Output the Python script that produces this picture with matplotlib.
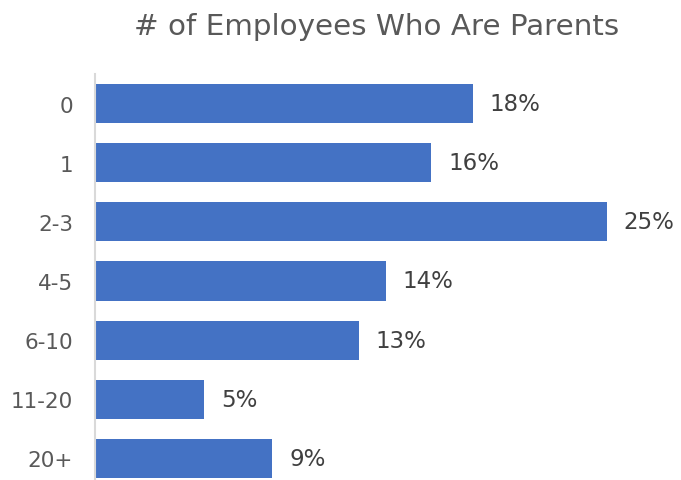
import matplotlib.pyplot as plt

# Share of employees who are parents, by company size bucket
categories = ["0", "1", "2-3", "4-5", "6-10", "11-20", "20+"]
shares = [18.3, 16.3, 24.8, 14.1, 12.8, 5.3, 8.6]  # percent

bar_color = "#4472C4"
label_color = "#595959"
value_color = "#404040"

plt.rcParams["font.family"] = ["DejaVu Sans"]

fig = plt.figure(figsize=(6.81, 4.81), dpi=100)
# plot area in pixel terms: left 94.5, top 75, bottom runs slightly past the frame
W, H = 681, 481
left, right, top, bottom = 94.5, 640, 75, 489
ax = fig.add_axes([left / W, (H - bottom) / H, (right - left) / W, (bottom - top) / H])

y = list(range(len(categories)))
bars = ax.barh(y, shares, height=0.66, color=bar_color, zorder=2)

ax.set_ylim(len(categories) - 0.5, -0.5)
per_pct = 512.3 / 24.8  # pixels per percent
ax.set_xlim(0, (right - left) / per_pct)

ax.set_yticks(y)
ax.set_yticklabels(categories, fontsize=15.5, color=label_color)
ax.tick_params(axis="y", length=0, pad=15.5)
ax.set_xticks([])

for s in ["top", "right", "bottom"]:
    ax.spines[s].set_visible(False)
ax.spines["left"].set_color("#d9d9d9")
ax.spines["left"].set_linewidth(1.5)

for b, v in zip(bars, shares):
    ax.annotate(f"{v:.0f}%", xy=(b.get_width(), b.get_y() + b.get_height() / 2),
                xytext=(17, 0), textcoords="offset pixels",
                va="center", ha="left", fontsize=16.5, color=value_color,
                annotation_clip=False)

fig.text(376.5 / W, 1 - 27 / H, "# of Employees Who Are Parents",
         ha="center", va="center", fontsize=21.2, color=label_color)

fig.savefig("out.png", dpi=100)
